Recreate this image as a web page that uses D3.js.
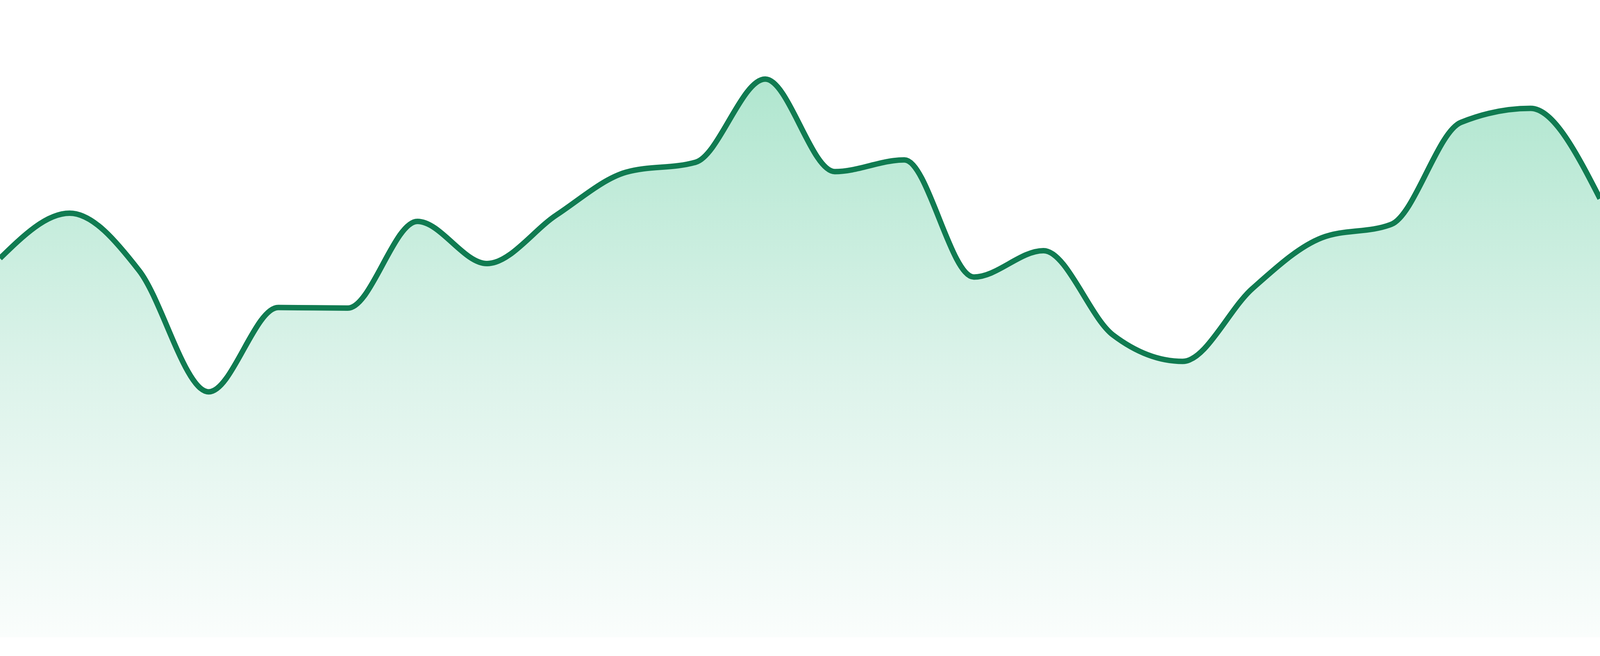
<!DOCTYPE html>
<html>
<head>
<meta charset="utf-8">
<script src="https://cdn.jsdelivr.net/npm/d3@7/dist/d3.min.js"></script>
<style>
  html, body { margin: 0; padding: 0; background: #ffffff; overflow: hidden; }
  svg { display: block; }
</style>
</head>
<body>
<svg id="chart"></svg>
<script>
const indices = d3.range(24);
const values = [64.7, 72.4, 62.6, 41.9, 56.3, 56.2, 71.0, 63.8, 72.1, 79.4, 81.1, 95.3,
                79.5, 81.5, 61.5, 66.0, 51.6, 47.1, 59.5, 68.2, 70.5, 87.9, 90.3, 74.9];

const W = window.innerWidth || 4800;
const H = window.innerHeight || 1680;
const svg = d3.select("#chart")
  .attr("width", W)
  .attr("height", H);

const x = d3.scaleLinear().domain([0, values.length - 1]).range([0, W]);
const y = d3.scaleLinear().domain([0, 100]).range([H * 1632 / 1680, H * 132 / 1680]);

const defs = svg.append("defs");
const grad = defs.append("linearGradient")
  .attr("id", "fillGrad")
  .attr("gradientUnits", "userSpaceOnUse")
  .attr("x1", 0).attr("x2", 0)
  .attr("y1", y(d3.max(values))).attr("y2", y(0));
grad.append("stop").attr("offset", "0%").attr("stop-color", "rgb(176,230,207)");
grad.append("stop").attr("offset", "52%").attr("stop-color", "rgb(220,243,234)");
grad.append("stop").attr("offset", "100%").attr("stop-color", "rgb(250,253,252)");

const data = indices.map(i => ({ i, v: values[i] }));

const area = d3.area()
  .x(d => x(d.i))
  .y0(y(0))
  .y1(d => y(d.v))
  .curve(d3.curveMonotoneX);

const line = d3.line()
  .x(d => x(d.i))
  .y(d => y(d.v))
  .curve(d3.curveMonotoneX);

svg.append("path")
  .datum(data)
  .attr("d", area)
  .attr("fill", "url(#fillGrad)");

svg.append("path")
  .datum(data)
  .attr("d", line)
  .attr("fill", "none")
  .attr("stroke", "#107b51")
  .attr("stroke-width", 14)
  .attr("stroke-linejoin", "round");
</script>
</body>
</html>
